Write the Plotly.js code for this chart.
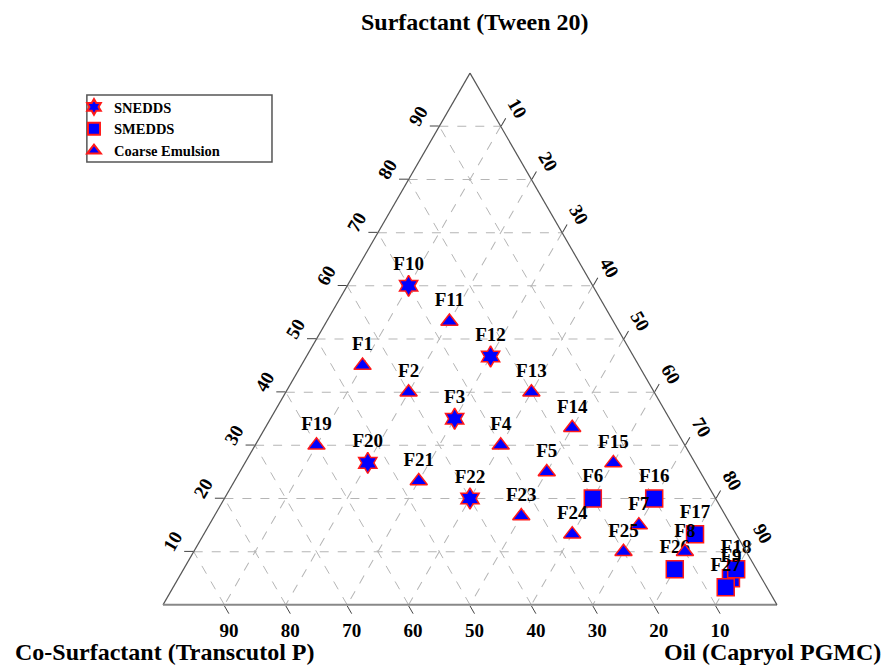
<!DOCTYPE html>
<html><head><meta charset="utf-8">
<script src="https://cdn.plot.ly/plotly-3.0.1.min.js"></script>
<style>html,body{margin:0;padding:0;background:#fff}</style>
</head><body><div id="chart" style="width:885px;height:669px"></div>
<script>
// a = Surfactant (Tween 20), b = Co-Surfactant (Transcutol P), c = Oil (Capryol PGMC)
const sneddsNames = ['F3','F10','F12','F20','F22'];
const sneddsSurf = [35, 60, 46.7, 26.7, 20];
const sneddsCoSurf = [35, 30, 23.3, 53.3, 40];
const sneddsOil = [30, 10, 30, 20, 40];

const smeddsNames = ['F6','F9','F16','F17','F18','F26','F27'];
const smeddsSurf = [20, 5, 20, 13.3, 6.7, 6.7, 3.3];
const smeddsCoSurf = [20, 5, 10, 6.7, 3.3, 13.3, 6.7];
const smeddsOil = [60, 90, 70, 80, 90, 80, 90];

const coarseNames = ['F1','F2','F4','F5','F7','F8','F11','F13','F14','F15','F19','F21','F23','F24','F25'];
const coarseSurf = [45, 40, 30, 25, 15, 10, 53.3, 40, 33.3, 26.7, 30, 23.3, 16.7, 13.3, 10];
const coarseCoSurf = [45, 40, 30, 25, 15, 10, 26.7, 20, 16.7, 13.3, 60, 46.7, 33.3, 26.7, 20];
const coarseOil = [10, 20, 40, 50, 70, 80, 20, 40, 50, 60, 10, 30, 50, 60, 70];

const tickVals = [10, 20, 30, 40, 50, 60, 70, 80, 90];

const surfTitle = 'Surfactant (Tween 20)';
const coSurfTitle = 'Co-Surfactant (Transcutol P)';
const oilTitle = 'Oil (Capryol PGMC)';

const serif = 'Liberation Serif, Times New Roman, serif';
const labelFont = {family: serif, size: 19, color: '#000', weight: 'bold'};
const titleFont = {family: serif, size: 24, color: '#000', weight: 'bold'};

function mk(name, names, a, b, c, symbol, size) {
  return {
    type: 'scatterternary', mode: 'markers+text', name: name,
    a: a, b: b, c: c, text: names, textposition: 'top center',
    textfont: labelFont, cliponaxis: false,
    marker: {symbol: symbol, size: size, color: '#0000ff', line: {color: '#ff1a1a', width: 1.5}},
    hoverinfo: 'text+a+b+c'
  };
}

const traces = [
  mk('SNEDDS', sneddsNames, sneddsSurf, sneddsCoSurf, sneddsOil, 'hexagram', 16),
  mk('SMEDDS', smeddsNames, smeddsSurf, smeddsCoSurf, smeddsOil, 'square', 17),
  mk('Coarse Emulsion', coarseNames, coarseSurf, coarseCoSurf, coarseOil, 'triangle-up', 15)
];

function ax(tickangle, lc, lw) {
  return {
    title: {text: ''},
    min: 0, tickmode: 'array', tickvals: tickVals,
    ticks: 'outside', ticklen: 9, tickcolor: '#444',
    tickfont: {family: serif, size: 19, color: '#000', weight: 'bold'},
    tickangle: tickangle,
    linecolor: lc, linewidth: lw,
    showgrid: true, gridcolor: '#b5b5b5', griddash: 'dash', gridwidth: 1
  };
}

const layout = {
  width: 885, height: 669,
  margin: {l: 163, r: 108, t: 73, b: 64, autoexpand: false},
  paper_bgcolor: '#fff',
  showlegend: true,
  legend: {
    xref: 'container', yref: 'container', x: 0.0836, y: 0.864, xanchor: 'left', yanchor: 'top',
    bgcolor: 'rgba(0,0,0,0)', borderwidth: 0,
    font: {family: serif, size: 14.5, color: '#000', weight: 'bold'},
    itemsizing: 'constant', tracegroupgap: 0
  },
  ternary: {
    sum: 100,
    domain: {x: [0, 1], y: [0, 1]},
    bgcolor: '#fff',
    aaxis: ax(-60, '#555', 1.2),
    baxis: ax(0, '#888', 2),
    caxis: ax(60, '#555', 1.2)
  },
  shapes: [
    {type: 'rect', xref: 'paper', yref: 'paper', x0: -0.124, x1: 0.1775, y0: 0.8327, y1: 0.9586,
     line: {color: '#555', width: 1.5}, fillcolor: 'rgba(0,0,0,0)', layer: 'above'}
  ],
  annotations: [
    {xref: 'paper', yref: 'paper', x: 0.508, y: 1.096, xanchor: 'center', yanchor: 'middle',
     text: surfTitle, showarrow: false, font: titleFont},
    {xref: 'paper', yref: 'paper', x: -0.244, y: -0.088, xanchor: 'left', yanchor: 'middle',
     text: coSurfTitle, showarrow: false, font: titleFont},
    {xref: 'paper', yref: 'paper', x: 1.172, y: -0.088, xanchor: 'right', yanchor: 'middle',
     text: oilTitle, showarrow: false, font: titleFont}
  ]
};

Plotly.newPlot('chart', traces, layout, {displayModeBar: false, responsive: false});
</script>
</body></html>
